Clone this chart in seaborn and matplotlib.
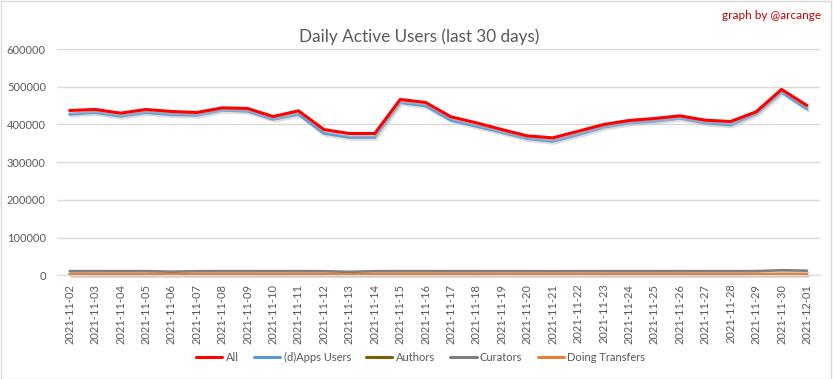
import pandas as pd
import matplotlib
matplotlib.use("Agg")
import matplotlib.pyplot as plt
import matplotlib.patheffects as pe
from matplotlib.lines import Line2D
import seaborn as sns

# Data
dates = ["2021-11-%02d" % d for d in range(2, 31)] + ["2021-12-01"]

all_users = [437000, 439700, 430000, 439700, 434400, 431700, 444000, 442400, 421000, 436100,
             386500, 375900, 375900, 466300, 458300, 420200, 404200, 386500, 369700, 364400,
             382000, 399800, 410500, 415800, 422900, 411300, 407800, 433500, 492900, 450300]
dapps_users = [427300, 431700, 422000, 431700, 426400, 424600, 438000, 435300, 414000, 427300,
               376800, 366100, 366100, 458300, 449500, 411300, 395400, 379400, 362600, 355500,
               373200, 392700, 404200, 408700, 416700, 404200, 398900, 428200, 485800, 441500]
authors = [3200, 3100, 3000, 3100, 3000, 3000, 3100, 3100, 3000, 3100,
           3000, 2900, 2900, 3200, 3200, 3100, 3000, 3000, 3000, 2900,
           3000, 3000, 3100, 3100, 3100, 3000, 3000, 3100, 3300, 3200]
curators = [11100, 11100, 11000, 11100, 9600, 10900, 11100, 11100, 11000, 11100,
            10900, 9200, 10900, 11100, 11100, 11000, 11000, 10900, 10900, 10800,
            10900, 11000, 11000, 11000, 11100, 11000, 11000, 11100, 13400, 12300]
transfers = [2700, 2600, 2500, 2700, 2600, 2600, 2700, 2700, 2600, 2700,
             2500, 2400, 2400, 2800, 2800, 2600, 2600, 2500, 2500, 2400,
             2500, 2600, 2600, 2600, 2700, 2600, 2600, 2700, 2900, 2800]

series = {
    "All": all_users,
    "(d)Apps Users": dapps_users,
    "Authors": authors,
    "Curators": curators,
    "Doing Transfers": transfers,
}
colors = {
    "All": "#FF0000",
    "(d)Apps Users": "#5B9BD5",
    "Authors": "#7F6000",
    "Curators": "#7F7F7F",
    "Doing Transfers": "#ED7D31",
}

df = pd.DataFrame(series, index=dates).reset_index(names="Date")
long_df = df.melt(id_vars="Date", var_name="Series", value_name="Users")

sns.set_style("white")
plt.rcParams["font.family"] = ["Lato", "DejaVu Sans"]

fig = plt.figure(figsize=(8.33, 3.79), dpi=100)
ax = fig.add_axes([0.0684, 0.2736, 0.9156, 0.5971])

# draw back to front so the red line ends up on top
order = ["Authors", "Curators", "Doing Transfers", "(d)Apps Users", "All"]
for name in order:
    sub = long_df[long_df["Series"] == name]
    lw = 2.2 if name in ("All", "(d)Apps Users") else 1.9
    sns.lineplot(data=sub, x="Date", y="Users", color=colors[name], linewidth=lw,
                 ax=ax, sort=False, legend=False, clip_on=False,
                 path_effects=[pe.SimpleLineShadow(offset=(1, -1.5), shadow_color="#BFBFBF", alpha=0.5),
                               pe.Normal()])

ax.set_xlim(-0.5, len(dates) - 0.5)
ax.set_ylim(0, 600000)
ax.set_yticks(range(0, 600001, 100000))
ax.yaxis.grid(True, color="#D9D9D9", linewidth=1)
ax.set_axisbelow(True)
for s in ["top", "right", "left"]:
    ax.spines[s].set_visible(False)
ax.spines["bottom"].set_color("#D9D9D9")
ax.set_xlabel("")
ax.set_ylabel("")
ax.set_xticks(range(len(dates)))
ax.set_xticklabels(dates, rotation=90)
ax.tick_params(axis="both", length=0, labelsize=8, labelcolor="#595959")
ax.tick_params(axis="x", pad=6)
ax.tick_params(axis="y", pad=8)

# legend in original order
legend_order = ["All", "(d)Apps Users", "Authors", "Curators", "Doing Transfers"]
handles = [Line2D([], [], color=colors[k], linewidth=2.2) for k in legend_order]
fig.legend(handles, legend_order, loc="center",
           bbox_to_anchor=(0.505, 0.058), ncol=5, frameon=False, fontsize=8,
           labelcolor="#595959", handlelength=2.35, columnspacing=1.4, handletextpad=0.3)

fig.text(0.503, 0.902, "Daily Active Users (last 30 days)", ha="center", va="center",
         fontsize=12.3, color="#595959")
fig.text(0.986, 0.958, "graph by @arcange", ha="right", va="center",
         fontsize=8.5, color="#C00000")

fig.patches.append(plt.Rectangle((0.001, 0.001), 0.997, 0.996, transform=fig.transFigure,
                                 fill=False, edgecolor="#D9D9D9", linewidth=1))

fig.savefig("out.png", dpi=100, facecolor="white")
